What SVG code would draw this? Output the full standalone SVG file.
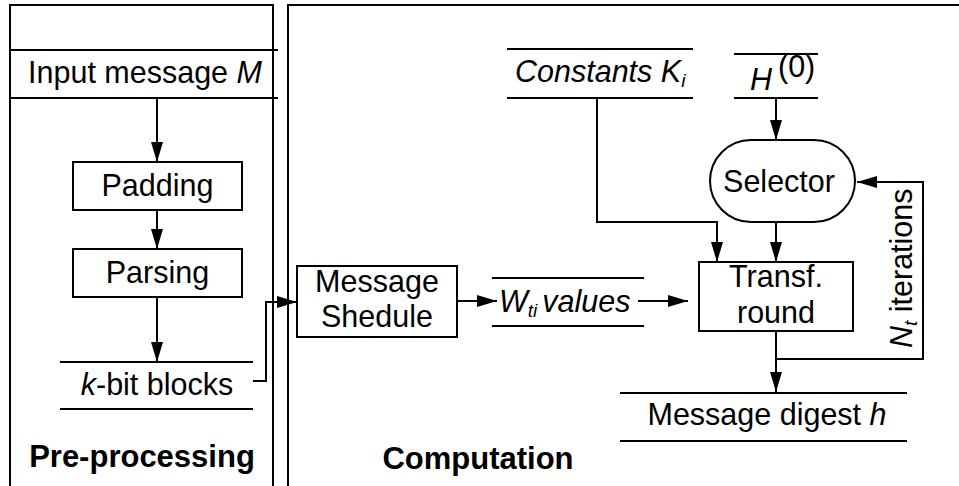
<svg xmlns="http://www.w3.org/2000/svg" width="959" height="486" viewBox="0 0 959 486">
<defs>
<marker id="ah" markerUnits="userSpaceOnUse" markerWidth="20" markerHeight="12" refX="20" refY="6" orient="auto"><path d="M0,0 L20,6 L0,12 z" fill="#000"/></marker>
<style>
text{font-family:"Liberation Sans",Arial,sans-serif;font-size:30.5px;fill:#000}
.b{font-weight:bold;font-size:31px}
.i{font-style:italic}
.ln{stroke:#000;stroke-width:2;fill:none}
.bx{stroke:#000;stroke-width:2;fill:#fff}
.c{stroke:#000;stroke-width:2;fill:none}
.a{marker-end:url(#ah)}
</style>
</defs>
<rect width="959" height="486" fill="#fff"/>
<g id="panel-pre">
<rect x="10" y="5" width="263" height="490" class="ln"/>
<text class="b" x="142" y="467" text-anchor="middle">Pre-processing</text>
</g>
<g id="panel-comp">
<rect x="288" y="5" width="680" height="490" class="ln"/>
<text class="b" x="478" y="469" text-anchor="middle">Computation</text>
</g>
<g id="connectors">
<line x1="157" y1="98" x2="157" y2="162" class="c a"/>
<line x1="157" y1="210" x2="157" y2="249" class="c a"/>
<line x1="157" y1="297" x2="157" y2="362" class="c a"/>
<polyline points="253,381 266,381 266,302 297,302" class="c a"/>
<line x1="457" y1="301" x2="497" y2="301" class="c a"/>
<line x1="638" y1="301" x2="688" y2="301" class="c a"/>
<polyline points="597,98 597,222 717,222 717,262" class="c a"/>
<line x1="776" y1="98" x2="776" y2="140" class="c a"/>
<line x1="776" y1="222" x2="776" y2="262" class="c a"/>
<line x1="776" y1="331" x2="776" y2="392" class="c a"/>
<polyline points="776,359 923,359 923,182 857,182" class="c a"/>
</g>
<g id="input">
<line x1="10" y1="50" x2="278" y2="50" class="ln"/>
<line x1="10" y1="98" x2="278" y2="98" class="ln"/>
<text x="145" y="83" text-anchor="middle">Input message <tspan class="i">M</tspan></text>
</g>
<g id="padding">
<rect x="73" y="162" width="169" height="48" class="bx"/>
<text x="157.5" y="196" text-anchor="middle">Padding</text>
</g>
<g id="parsing">
<rect x="73" y="249" width="169" height="48" class="bx"/>
<text x="157.5" y="283" text-anchor="middle">Parsing</text>
</g>
<g id="kbit">
<line x1="60" y1="362" x2="253" y2="362" class="ln"/>
<line x1="60" y1="409" x2="253" y2="409" class="ln"/>
<text x="157" y="395" text-anchor="middle"><tspan class="i">k</tspan>-bit blocks</text>
</g>
<g id="schedule">
<rect x="297" y="266" width="160" height="71" class="bx"/>
<text x="377" y="292" text-anchor="middle">Message</text>
<text x="377" y="327" text-anchor="middle">Shedule</text>
</g>
<g id="wti">
<line x1="492" y1="278" x2="644" y2="278" class="ln"/>
<line x1="492" y1="326" x2="644" y2="326" class="ln"/>
<text x="499" y="312" class="i">W<tspan font-size="19" dy="5">ti</tspan><tspan dy="-5" dx="5">values</tspan></text>
</g>
<g id="constants">
<line x1="507" y1="49" x2="693" y2="49" class="ln"/>
<line x1="507" y1="98" x2="693" y2="98" class="ln"/>
<text x="515" y="82" class="i">Constants K<tspan font-size="19" dy="5">i</tspan></text>
</g>
<g id="h0">
<line x1="734" y1="54" x2="818" y2="54" class="ln"/>
<line x1="734" y1="98" x2="818" y2="98" class="ln"/>
<text x="750" y="90" class="i">H</text>
<text x="778" y="77" font-size="17">(0)</text>
</g>
<g id="selector">
<rect x="710" y="140" width="145" height="82" rx="41" ry="41" class="bx"/>
<text x="779" y="192" text-anchor="middle">Selector</text>
</g>
<g id="transf">
<rect x="699" y="262" width="154" height="69" class="bx"/>
<text x="776" y="287" text-anchor="middle">Transf.</text>
<text x="776" y="323" text-anchor="middle">round</text>
</g>
<g id="iterations">
<text transform="translate(912,348) rotate(-90)"><tspan class="i">N</tspan><tspan class="i" font-size="19" dy="5">t</tspan><tspan dy="-5"> iterations</tspan></text>
</g>
<g id="digest">
<line x1="620" y1="393" x2="907" y2="393" class="ln"/>
<line x1="620" y1="441" x2="907" y2="441" class="ln"/>
<text x="767" y="425" text-anchor="middle" font-size="31">Message digest <tspan class="i">h</tspan></text>
</g>
</svg>
